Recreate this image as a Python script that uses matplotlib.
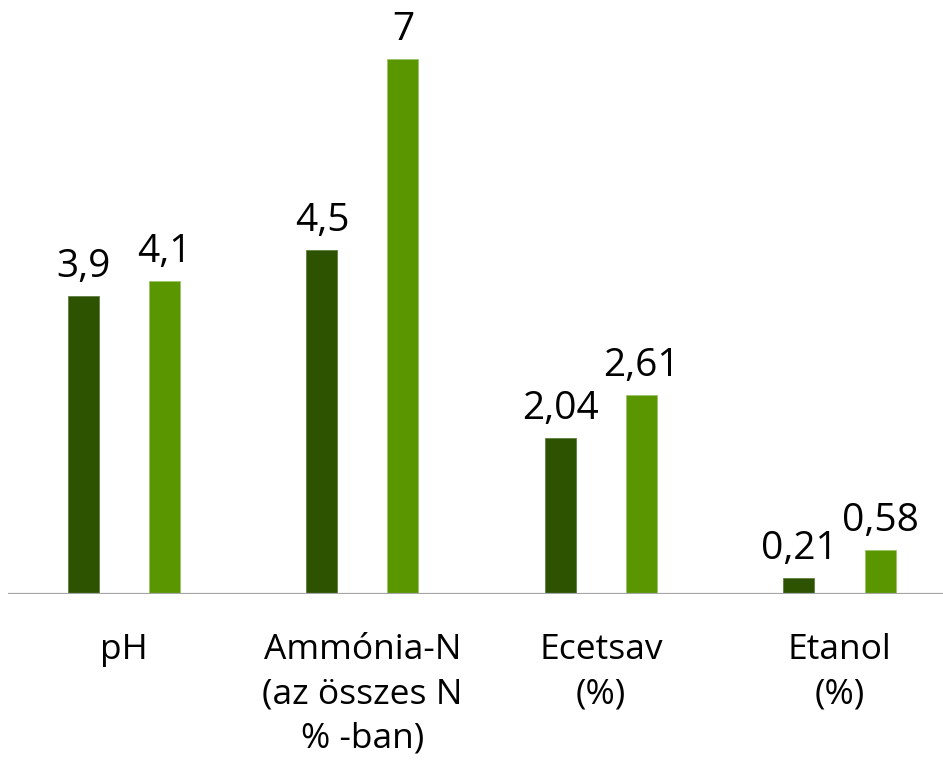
import numpy as np
import matplotlib.pyplot as plt

categories = ['pH', 'Ammónia-N\n(az összes N\n% -ban)', 'Ecetsav\n(%)', 'Etanol\n(%)']
series_a = [3.9, 4.5, 2.04, 0.21]
series_b = [4.1, 7, 2.61, 0.58]
labels_a = ['3,9', '4,5', '2,04', '0,21']
labels_b = ['4,1', '7', '2,61', '0,58']

dark = '#2d5300'
light = '#5a9600'

plt.rcParams['font.family'] = ['Open Sans', 'DejaVu Sans']

fig = plt.figure(figsize=(9.43, 7.64), dpi=100)
ax = fig.add_axes([8 / 943, 170 / 764, 935 / 943, 594 / 764])

x = np.arange(len(categories))
w = 0.13
off = 0.17
bars_a = ax.bar(x - off, series_a, w, color=dark, edgecolor='#5f7f40', linewidth=0.6)
bars_b = ax.bar(x + off, series_b, w, color=light, edgecolor='#9cc46a', linewidth=0.6)

for bars, labs in [(bars_a, labels_a), (bars_b, labels_b)]:
    for b, t in zip(bars, labs):
        ax.annotate(t, (b.get_x() + b.get_width() / 2, b.get_height()),
                    xytext=(0, 13.5), textcoords='offset points',
                    ha='center', va='baseline', fontsize=28)

for i, c in enumerate(categories):
    ax.annotate(c, (i, 0), xytext=(0, -28), textcoords='offset points',
                ha='center', va='top', fontsize=25.5, linespacing=1.4)

ax.set_xlim(-0.486, 3.434)
ax.set_ylim(0, 594 / (535 / 7))
ax.axhline(0, color='#a6a6a6', linewidth=1.6)
for s in ax.spines.values():
    s.set_visible(False)
ax.set_xticks([])
ax.set_yticks([])
ax.patch.set_alpha(0)

fig.savefig('out.png', dpi=100)
